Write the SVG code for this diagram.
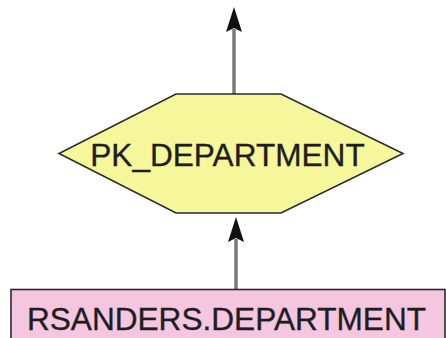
<svg xmlns="http://www.w3.org/2000/svg" width="446" height="338" viewBox="0 0 446 338">
  <style>
    .label { font-family: "Liberation Sans", Arial, sans-serif; font-size: 31.6px; fill: #1e1e1e; stroke: #1e1e1e; stroke-width: 0.35; }
    .edge { stroke: #7a7a7a; stroke-width: 3.5; fill: none; }
    .head { fill: #111; }
  </style>
  <defs>
    <!-- arrowhead pointing up, tip at origin -->
    <path id="head-up" class="head" d="M0,0 L-8,25 L0,21 L8,25 Z"/>
  </defs>

  <rect width="446" height="338" fill="#ffffff"/>

  <!-- connectors -->
  <g id="connectors">
    <path class="edge" d="M234,94 L234,29"/>
    <use href="#head-up" x="234" y="7"/>
    <path class="edge" d="M236,289 L236,239"/>
    <use href="#head-up" x="236" y="217"/>
  </g>

  <!-- primary key node -->
  <g id="pk_department">
    <polygon points="176,94 281,94 403,153.5 281,213 176,213 59,153.5" fill="#f6f69a" stroke="#2a2a2a" stroke-width="1.6"/>
    <text class="label" x="227.5" y="166" text-anchor="middle">PK_DEPARTMENT</text>
  </g>

  <!-- table node -->
  <g id="rsanders_department">
    <rect x="11" y="289.5" width="434" height="60" fill="#f5c6e0" stroke="#2a2a2a" stroke-width="1.6"/>
    <text class="label" x="226.5" y="329.5" text-anchor="middle">RSANDERS.DEPARTMENT</text>
  </g>
</svg>
